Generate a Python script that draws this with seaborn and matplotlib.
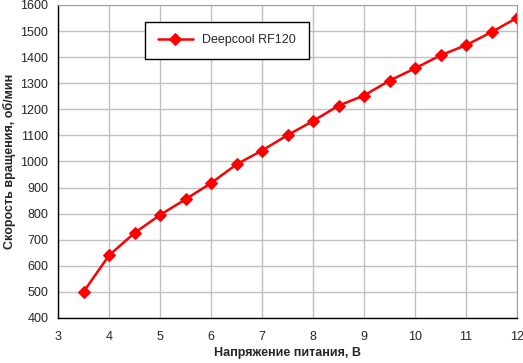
import seaborn as sns
import matplotlib.pyplot as plt
import pandas as pd

## Data
voltage = [3.5, 4, 4.5, 5, 5.5, 6, 6.5, 7, 7.5, 8, 8.5, 9, 9.5, 10, 10.5, 11, 11.5, 12]
rpm = [500, 640, 726, 795, 855, 917, 989, 1042, 1101, 1155, 1214, 1253, 1310, 1357, 1407, 1446, 1496, 1551]
series_name = "Deepcool RF120"
x_ticks = list(range(3, 13))
y_ticks = list(range(400, 1700, 100))

df = pd.DataFrame({"voltage": voltage, "rpm": rpm})

sns.set_style("white")
plt.rcParams['font.family'] = ['Liberation Sans', 'DejaVu Sans']

fig = plt.figure(figsize=(5.23, 3.63), dpi=100)
ax = fig.add_axes([58/523, 1 - 318/363, (517-58)/523, (318-5)/363])

sns.lineplot(data=df, x="voltage", y="rpm", ax=ax, color='#ff0000', linewidth=1.8,
             marker='D', markersize=6.5, markeredgecolor='#ff0000', label=series_name)

ax.set_xlim(3, 12)
ax.set_ylim(400, 1600)
ax.set_xticks(x_ticks)
ax.set_yticks(y_ticks)
ax.grid(True, color='#c0c0c0', linewidth=1)
ax.set_axisbelow(True)

for side in ['top', 'right']:
    ax.spines[side].set_color('#a0a0a0')
for side in ['left', 'bottom']:
    ax.spines[side].set_color('black')
    ax.spines[side].set_linewidth(1)

ax.tick_params(axis='both', labelsize=9, length=4, width=1, color='black', direction='out',
               pad=3)
ax.tick_params(axis='x', pad=5)
ax.set_xlabel('Напряжение питания, В', fontsize=9, fontweight='bold', labelpad=3)
ax.set_ylabel('Скорость вращения, об/мин', fontsize=9, fontweight='bold', labelpad=3)

leg = ax.legend(loc='upper left', bbox_to_anchor=((145-58)/459, 1 - (22-5)/313),
                frameon=True, fancybox=False, fontsize=9, borderpad=1.0,
                handlelength=2.8, borderaxespad=0)
leg.get_frame().set_edgecolor('black')
leg.get_frame().set_linewidth(1)
leg.get_frame().set_alpha(1)

plt.savefig("out.png", dpi=100)
